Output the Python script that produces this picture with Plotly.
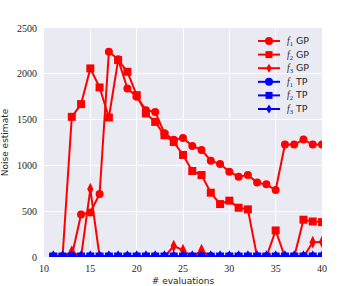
import plotly.graph_objects as go

evals = list(range(11, 41))

f1_gp = [0, 0, 10, 465, 487, 687, 2240, 2158, 1840, 1749, 1603, 1584, 1350, 1280, 1300,
         1212, 1169, 1052, 1015, 932, 877, 895, 812, 793, 731, 1227, 1227, 1282, 1227, 1227]
f2_gp = [0, 0, 1530, 1669, 2059, 1851, 1523, 2150, 2022, 1767, 1567, 1475, 1329, 1256, 1114,
         939, 895, 702, 578, 615, 538, 520, 0, 0, 290, 0, 0, 407, 388, 381]
f3_gp = [0, 0, 60, 0, 742, 0, 0, 0, 0, 0, 0, 0, 0, 120, 75,
         0, 75, 0, 0, 0, 0, 0, 0, 0, 0, 0, 0, 0, 162, 165]
f1_tp = [5] * 30
f2_tp = [5] * 30
f3_tp = [5] * 30

x_ticks = [10, 15, 20, 25, 30, 35, 40]
y_ticks = [0, 500, 1000, 1500, 2000, 2500]

series = [
    ("1", "GP", f1_gp, "red", "circle"),
    ("2", "GP", f2_gp, "red", "square"),
    ("3", "GP", f3_gp, "red", "diamond-tall"),
    ("1", "TP", f1_tp, "blue", "circle"),
    ("2", "TP", f2_tp, "blue", "square"),
    ("3", "TP", f3_tp, "blue", "diamond-tall"),
]

W, H = 357, 286
ML, MR, MT, MB = 44, 35, 28, 29
PW, PH = W - ML - MR, H - MT - MB


def px2paper(px, py):
    return (px - ML) / PW, (H - MB - py) / PH


fig = go.Figure()
shapes = []
annotations = []
for i, (idx, kind, vals, col, sym) in enumerate(series):
    label = "<span style='font-family:Liberation Serif'><i>f</i><sub>%s</sub></span> %s" % (idx, kind)
    fig.add_trace(go.Scatter(
        x=evals, y=vals, mode="lines+markers", name=label, showlegend=False,
        line=dict(color=col, width=2),
        marker=dict(color=col, symbol=sym, size=8 if sym != "diamond-tall" else 9),
    ))
    # legend entry (drawn manually for compact spacing)
    cy = 41 + i * 13.6
    x0, y0 = px2paper(258, cy)
    x1, _ = px2paper(280, cy)
    shapes.append(dict(type="line", xref="paper", yref="paper", x0=x0, x1=x1, y0=y0, y1=y0,
                       line=dict(color=col, width=2)))
    mx = 269
    if sym == "circle":
        a, b = px2paper(mx - 4, cy - 4)
        c, d = px2paper(mx + 4, cy + 4)
        shapes.append(dict(type="circle", xref="paper", yref="paper", x0=a, x1=c, y0=d, y1=b,
                           fillcolor=col, line=dict(width=0)))
    elif sym == "square":
        a, b = px2paper(mx - 3.5, cy - 3.5)
        c, d = px2paper(mx + 3.5, cy + 3.5)
        shapes.append(dict(type="rect", xref="paper", yref="paper", x0=a, x1=c, y0=d, y1=b,
                           fillcolor=col, line=dict(width=0)))
    else:
        pts = [px2paper(mx, cy - 4.5), px2paper(mx + 2.8, cy), px2paper(mx, cy + 4.5), px2paper(mx - 2.8, cy)]
        path = "M " + " L ".join("%f,%f" % p for p in pts) + " Z"
        shapes.append(dict(type="path", xref="paper", yref="paper", path=path,
                           fillcolor=col, line=dict(width=0)))
    tx, ty = px2paper(285, cy)
    annotations.append(dict(xref="paper", yref="paper", x=tx, y=ty, xanchor="left", yanchor="middle",
                            text=label, showarrow=False, font=dict(size=9.5, color="#262626")))

fig.update_layout(
    width=W, height=H,
    margin=dict(l=ML, r=MR, t=MT, b=MB),
    paper_bgcolor="white", plot_bgcolor="#EAEAF2",
    font=dict(family="DejaVu Sans", size=9, color="#262626"),
    showlegend=False,
    shapes=shapes, annotations=annotations,
)
fig.update_xaxes(range=[10, 40], tickvals=x_ticks, showgrid=True, gridcolor="white", gridwidth=1,
                 zeroline=False, showline=False, ticks="", automargin=False, ticklabelstandoff=4,
                 tickfont=dict(family="Liberation Serif", size=10, color="#262626"),
                 title=dict(text="# evaluations", font=dict(size=9)))
fig.update_yaxes(range=[0, 2500], tickvals=y_ticks, showgrid=True, gridcolor="white", gridwidth=1,
                 zeroline=False, showline=False, ticks="", automargin=False, ticklabelstandoff=6,
                 tickfont=dict(family="Liberation Serif", size=10, color="#262626"),
                 title=dict(text="Noise estimate", font=dict(size=9)))

fig.write_html("out.html", config={"displayModeBar": False},
               post_script="document.body.style.margin='0';")
